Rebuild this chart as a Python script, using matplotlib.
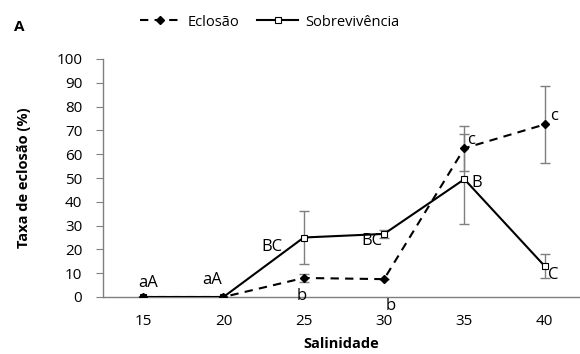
import numpy as np
import matplotlib.pyplot as plt

plt.rcParams['font.family'] = ['Open Sans', 'DejaVu Sans']

# --- Data ---
salinidade = ['15', '20', '25', '30', '35', '40']
eclosao = [0, 0, 8, 7.5, 62.5, 72.5]
eclosao_err = [0, 0, 1.5, 0, 9.5, 16]
sobrev = [0, 0, 25, 26.5, 49.5, 13]
sobrev_err = [0, 0, 11, 1.5, 19, 5]
ecl_labels = ['', '', 'b', 'b', 'c', 'c']
sob_labels = ['aA', 'aA', 'BC', 'BC', 'B', 'C']

x = np.arange(len(salinidade))
grey = '#7f7f7f'

fig = plt.figure(figsize=(5.8, 3.54), dpi=100)
ax = fig.add_axes([103 / 580, 57 / 354, 477 / 580, 238 / 354])

ax.errorbar(x, sobrev, yerr=sobrev_err, fmt='none', ecolor=grey, elinewidth=1, capsize=3.5, capthick=1)
ax.errorbar(x, eclosao, yerr=eclosao_err, fmt='none', ecolor=grey, elinewidth=1, capsize=3.5, capthick=1)
ax.plot(x, sobrev, '-', color='black', lw=1.5, marker='s', ms=4.5, mfc='white', mec='black', mew=0.8,
        label='Sobrevivência', zorder=3)
ax.plot(x, eclosao, '--', color='black', lw=1.5, dashes=(4, 3), marker='D', ms=4.5, mfc='black', mec='black',
        label='Eclosão', zorder=4)

# letters (offsets in points)
fs = 12
sob_off = [(3.5, 10), (-8, 12), (-23, -7), (-9, -5), (9, -3), (6, -6.5)]
ecl_off = [None, None, (-1.5, -13), (4.5, -19), (5, 6), (7, 6)]
for i in range(len(x)):
    ax.annotate(sob_labels[i], (x[i], sobrev[i]), xytext=sob_off[i], textcoords='offset points',
                ha='center', va='center', fontsize=fs, annotation_clip=False)
    if ecl_labels[i]:
        ax.annotate(ecl_labels[i], (x[i], eclosao[i]), xytext=ecl_off[i], textcoords='offset points',
                    ha='center', va='center', fontsize=fs, annotation_clip=False)

ax.set_xlim(-0.5, 5.44)
ax.set_ylim(0, 100)
ax.set_yticks(np.arange(0, 101, 10))
ax.set_xticks(x)
ax.set_xticklabels(salinidade)
ax.tick_params(axis='y', direction='out', length=5, color=grey, labelsize=11, pad=10)
ax.tick_params(axis='x', length=0, labelsize=11, pad=12)
for s in ['top', 'right']:
    ax.spines[s].set_visible(False)
for s in ['left', 'bottom']:
    ax.spines[s].set_color(grey)
    ax.spines[s].set_linewidth(1)

ax.set_xlabel('Salinidade', fontsize=10.5, fontweight='bold', labelpad=6)
ax.set_ylabel('Taxa de eclosão (%)', fontsize=10.5, fontweight='bold', labelpad=18)

handles, labels = ax.get_legend_handles_labels()
leg = fig.legend(handles[::-1], labels[::-1], loc='center', ncol=2, frameon=False,
                 fontsize=10.5, handlelength=2.8, columnspacing=1.2, handletextpad=0.5,
                 bbox_to_anchor=(0.465, 1 - 22 / 354), bbox_transform=fig.transFigure)

fig.text(14 / 580, 1 - 27 / 354, 'A', fontsize=11, fontweight='bold', ha='left', va='center')

plt.savefig('out.png', dpi=100)
